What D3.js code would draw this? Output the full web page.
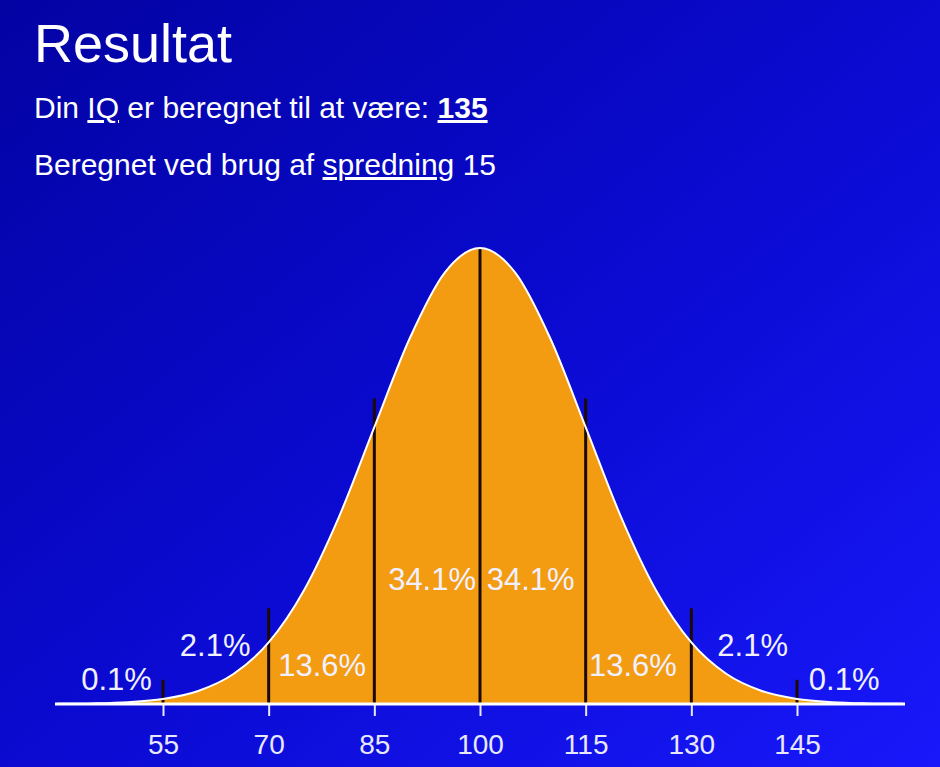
<!DOCTYPE html>
<html><head><meta charset="utf-8">
<script src="https://cdn.jsdelivr.net/npm/d3@7"></script>
<style>
body{margin:0;width:940px;height:767px;overflow:hidden;font-family:"Liberation Sans",Arial,sans-serif;}
</style></head><body>
<svg id="c" width="940" height="767"></svg>
<script>
// data
const curveIQ = [40,45,50,55,60,65,70,75,80,85,90,95,100,105,110,115,120,125,130,135,140,145,150,155,160];
const curveH  = [0.0003,0.0012,0.0039,0.011,0.0286,0.0657,0.135,0.249,0.411,0.607,0.801,0.946,1,0.946,0.801,0.607,0.411,0.249,0.135,0.0657,0.0286,0.011,0.0039,0.0012,0.0003];
const markIQ = [55,70,85,100,115,130,145];
const markTop = [0.053,0.21,0.67,1,0.67,0.21,0.053];
const tickLabels = ["55","70","85","100","115","130","145"];
const pctLabels = ["0.1%","2.1%","13.6%","34.1%","34.1%","13.6%","2.1%","0.1%"];
const pctIQ = [48.4,62.4,77.6,93.2,107.2,121.7,138.7,151.7];
const pctH = [0.031,0.105,0.061,0.25,0.25,0.061,0.105,0.031];

const svg = d3.select("#c");
const defs = svg.append("defs");
const g = defs.append("linearGradient").attr("id","bg").attr("x1","0").attr("y1","0").attr("x2","1").attr("y2","1");
g.append("stop").attr("offset","0").attr("stop-color","#0303a3");
g.append("stop").attr("offset","0.5").attr("stop-color","#0a0ad0");
g.append("stop").attr("offset","1").attr("stop-color","#1818fb");
svg.append("rect").attr("width",940).attr("height",767).attr("fill","url(#bg)");

svg.append("text").attr("x",34).attr("y",62).attr("fill","#fff").attr("font-size",54).text("Resultat");
const t1 = svg.append("text").attr("x",34).attr("y",118).attr("fill","#fff").attr("font-size",30);
t1.append("tspan").text("Din ");
t1.append("tspan").attr("text-decoration","underline").text("IQ");
t1.append("tspan").text(" er beregnet til at være: ");
t1.append("tspan").attr("font-weight","bold").attr("text-decoration","underline").text("135");
const t2 = svg.append("text").attr("x",34).attr("y",175).attr("fill","#fff").attr("font-size",30);
t2.append("tspan").text("Beregnet ved brug af ");
t2.append("tspan").attr("text-decoration","underline").text("spredning");
t2.append("tspan").text(" 15");

const x = d3.scaleLinear().domain([55,145]).range([163,797]);
const y = d3.scaleLinear().domain([0,1]).range([704,248]);
const pts = curveIQ.map((v,i)=>[v,curveH[i]]);
const area = d3.area().x(d=>x(d[0])).y0(y(0)).y1(d=>y(d[1])).curve(d3.curveMonotoneX);
const line = d3.line().x(d=>x(d[0])).y(d=>y(d[1])).curve(d3.curveMonotoneX);
svg.append("path").attr("d",area(pts)).attr("fill","#f39c12");

markIQ.forEach((v,i)=>{
  svg.append("line").attr("x1",x(v)).attr("x2",x(v)).attr("y1",y(0)).attr("y2",y(markTop[i]))
    .attr("stroke","#1a0a05").attr("stroke-width",3);
});
svg.append("path").attr("d",line(pts)).attr("fill","none").attr("stroke","#fff").attr("stroke-width",2);

const axis = d3.axisBottom(x).tickValues(markIQ).tickFormat((d,i)=>tickLabels[i]).tickSize(12).tickSizeOuter(0);
const ax = svg.append("g").attr("transform",`translate(0,${y(0)})`).call(axis);
ax.select(".domain").remove();
svg.insert("line").attr("x1",55).attr("x2",905).attr("y1",y(0)).attr("y2",y(0)).attr("stroke","#fff").attr("stroke-width",3);
ax.selectAll("line").attr("stroke","#e8e8ff").attr("stroke-width",2);
ax.selectAll("text").attr("fill","#e8e8ff").attr("font-size",28).attr("dy","1.25em").attr("font-family","Liberation Sans, Arial, sans-serif");

pctLabels.forEach((s,i)=>{
  svg.append("text").attr("x",x(pctIQ[i])).attr("y",y(pctH[i])).attr("text-anchor","middle")
    .attr("fill","#f0f0ff").attr("font-size",31).text(s);
});
</script></body></html>
